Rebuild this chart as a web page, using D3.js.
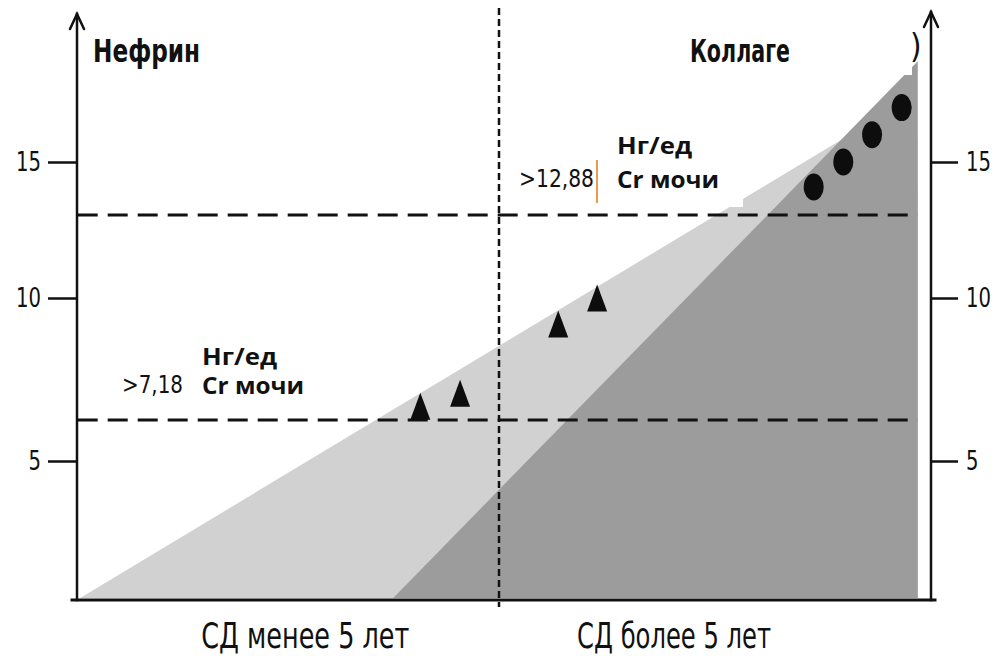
<!DOCTYPE html>
<html>
<head>
<meta charset="utf-8">
<script src="https://cdn.jsdelivr.net/npm/d3@7"></script>
<style>
  html, body { margin: 0; padding: 0; background: #fff; }
  svg { display: block; }
</style>
</head>
<body>
<svg id="chart" width="1008" height="656"></svg>
<script>
// Urinary nephrin and collagen levels (ng per unit urine Cr) against diabetes duration (years)

// ---- data ----
const groupLabels = ["СД менее 5 лет", "СД более 5 лет"];
const yTicks = [5, 10, 15];
const thresholds = [7.18, 12.88];            // cut-off levels: nephrin, collagen
const thresholdLabels = [">7,18", ">12,88"];
const unitLines = ["Нг/ед", "Cr мочи"];

const nephrinYears = [4.07, 4.54, 5.70, 6.16];
const nephrinLevels = [7.5, 7.8, 9.4, 10.0];
const collagenYears = [8.72, 9.07, 9.41, 9.76];
const collagenLevels = [14.0, 15.0, 16.0, 17.0];

// shaded zones as [years, level] vertices
const nephrinZone = [[0.05, 0], [9.09, 15.9], [9.95, 15.9], [9.95, 0]];
const collagenZone = [[3.75, 0], [9.95, 18.7], [9.95, 0]];

// ---- layout ----
const svg = d3.select("#chart");
const NARROW = "'Liberation Sans Narrow','Arial Narrow','DejaVu Sans Condensed',sans-serif";
const BOLD = "'Open Sans','Noto Sans',sans-serif";

const x = d3.scaleLinear().domain([0, 10]).range([76, 922]);
// schematic vertical axis: the reference levels are spaced unevenly
const y = d3.scaleLinear()
  .domain([0, 5, 7.18, 10, 12.88, 15, 20])
  .range([598, 461, 420, 298, 215, 162, 26]);

const leftX = 77, rightX = 931, baseY = 600;

// ---- shaded zones ----
const zoneLine = d3.line().x(d => x(d[0])).y(d => y(d[1]));
svg.append("path").attr("d", zoneLine(nephrinZone) + "Z").attr("fill", "#d1d1d1");
svg.append("path").attr("d", zoneLine(collagenZone) + "Z").attr("fill", "#9c9c9c");

// white label boxes sitting on top of the zones
svg.append("rect").attr("x", 786).attr("y", 0).attr("width", 126).attr("height", 75).attr("fill", "#fff");
svg.append("rect").attr("x", 604).attr("y", 125).attr("width", 139).attr("height", 82).attr("fill", "#fff");

// ---- threshold lines ----
svg.selectAll("line.thr").data(thresholds).join("line")
  .attr("class", "thr")
  .attr("x1", x(0.02)).attr("x2", x(9.95))
  .attr("y1", d => y(d)).attr("y2", d => y(d))
  .attr("stroke", "#111").attr("stroke-width", 3)
  .attr("stroke-dasharray", "20,10");

// boundary between duration groups (5 years)
svg.append("line")
  .attr("x1", x(5)).attr("x2", x(5))
  .attr("y1", 8).attr("y2", 607)
  .attr("stroke", "#111").attr("stroke-width", 2.5)
  .attr("stroke-dasharray", "7,4");

// ---- markers ----
const triW = 20, triH = 27;
svg.selectAll("path.tri").data(d3.range(nephrinYears.length)).join("path")
  .attr("class", "tri")
  .attr("d", i => {
    const cx = x(nephrinYears[i]), cy = y(nephrinLevels[i]);
    return `M${cx},${cy - triH / 2}L${cx + triW / 2},${cy + triH / 2}L${cx - triW / 2},${cy + triH / 2}Z`;
  })
  .attr("fill", "#0d0d0d");

svg.selectAll("ellipse.dot").data(d3.range(collagenYears.length)).join("ellipse")
  .attr("class", "dot")
  .attr("cx", i => x(collagenYears[i]))
  .attr("cy", i => y(collagenLevels[i]))
  .attr("rx", 10).attr("ry", 13.5)
  .attr("fill", "#0d0d0d");

// ---- axes ----
const axisG = svg.append("g").attr("stroke", "#111").attr("fill", "none").attr("stroke-linecap", "square");
axisG.append("line").attr("x1", 72).attr("x2", 935).attr("y1", baseY).attr("y2", baseY).attr("stroke-width", 3);
[[leftX, 14], [rightX, 12]].forEach(([ax, top]) => {
  axisG.append("line").attr("x1", ax).attr("x2", ax).attr("y1", baseY).attr("y2", top).attr("stroke-width", 2.5);
  axisG.append("path").attr("d", `M${ax - 7},${top + 15}L${ax},${top}L${ax + 7},${top + 15}`)
    .attr("stroke-width", 2.5).attr("stroke-linecap", "round").attr("stroke-linejoin", "miter");
});

const leftAxis = d3.axisLeft(y).tickValues(yTicks).tickSize(29).tickPadding(7).tickFormat(d3.format("d"));
const rightAxis = d3.axisRight(y).tickValues(yTicks).tickSize(27).tickPadding(8).tickFormat(d3.format("d"));

function styleAxis(g) {
  g.select(".domain").remove();
  g.selectAll(".tick line").attr("stroke", "#111").attr("stroke-width", 2.5);
  g.selectAll(".tick text").attr("fill", "#111")
    .attr("textLength", d => String(d).length * 12.5).attr("lengthAdjust", "spacingAndGlyphs")
    .style("font-family", NARROW).style("font-size", "27px");
}
svg.append("g").attr("transform", `translate(${leftX},0)`).call(leftAxis).call(styleAxis);
svg.append("g").attr("transform", `translate(${rightX},0)`).call(rightAxis).call(styleAxis);

// ---- titles ----
svg.append("text").text("Нефрин")
  .attr("x", 93).attr("y", 62)
  .attr("textLength", 107).attr("lengthAdjust", "spacingAndGlyphs")
  .style("font-family", NARROW).style("font-size", "32px").style("font-weight", "bold").attr("fill", "#111");
svg.append("text").text("Коллаге")
  .attr("x", 690).attr("y", 62)
  .attr("textLength", 100).attr("lengthAdjust", "spacingAndGlyphs")
  .style("font-family", NARROW).style("font-size", "32px").style("font-weight", "bold").attr("fill", "#111");
svg.append("rect").attr("x", 789).attr("y", 30).attr("width", 12).attr("height", 40).attr("fill", "#fff");
svg.append("text").text(")")
  .attr("x", 910).attr("y", 58)
  .style("font-family", NARROW).style("font-size", "33px").attr("fill", "#111");

// ---- threshold annotations ----
const annos = [
  { val: thresholdLabels[0], vx: 122, vw: 61, ux: 202, top: 365, bottom: 394 },
  { val: thresholdLabels[1], vx: 519, vw: 75, ux: 617, top: 154, bottom: 188 }
];
annos.forEach(a => {
  svg.append("text").text(a.val)
    .attr("x", a.vx).attr("y", a.bottom - 1)
    .attr("textLength", a.vw).attr("lengthAdjust", "spacingAndGlyphs")
    .style("font-family", NARROW).style("font-size", "25px").attr("fill", "#111");
  svg.append("text").text(unitLines[0])
    .attr("x", a.ux).attr("y", a.top)
    .attr("textLength", 75).attr("lengthAdjust", "spacingAndGlyphs")
    .style("font-family", BOLD).style("font-size", "23px").style("font-weight", "bold").attr("fill", "#111");
  svg.append("text").text(unitLines[1])
    .attr("x", a.ux).attr("y", a.bottom)
    .attr("textLength", 102).attr("lengthAdjust", "spacingAndGlyphs")
    .style("font-family", BOLD).style("font-size", "23px").style("font-weight", "bold").attr("fill", "#111");
});
// thin orange separator after the collagen value
svg.append("line").attr("x1", 597).attr("x2", 597).attr("y1", 160).attr("y2", 203)
  .attr("stroke", "#ee9a4e").attr("stroke-width", 2);

// ---- group captions ----
const captionCenters = [x(2.71), x(7.07)];
const captionWidths = [208, 194];
svg.selectAll("text.grp").data(groupLabels).join("text")
  .attr("class", "grp")
  .text(d => d)
  .attr("x", (d, i) => captionCenters[i] - captionWidths[i] / 2)
  .attr("y", 648)
  .attr("textLength", (d, i) => captionWidths[i]).attr("lengthAdjust", "spacingAndGlyphs")
  .style("font-family", NARROW).style("font-size", "35px").attr("fill", "#111");
</script>
</body>
</html>
